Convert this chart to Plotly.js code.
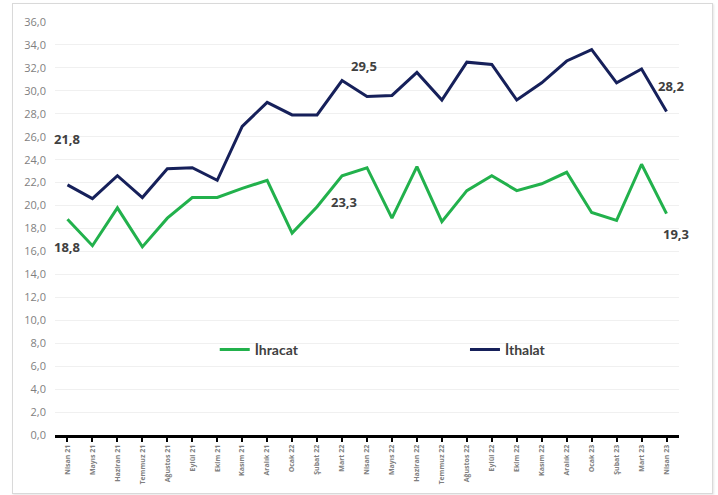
<!DOCTYPE html>
<html>
<head>
<meta charset="utf-8">
<script src="https://cdn.plot.ly/plotly-3.0.1.min.js"></script>
<style>
html,body{margin:0;padding:0;background:#fff;}
#frame{position:absolute;left:12px;top:3px;width:699px;height:489px;border:1px solid #d9d9d9;box-shadow:1px 1px 2px #e6e6e6;}
#chart{position:absolute;left:0;top:0;width:718px;height:495px;}
</style>
</head>
<body>
<div id="frame"></div>
<div id="chart"></div>
<script>
const months = ["Nisan 21","Mayıs 21","Haziran 21","Temmuz 21","Ağustos 21","Eylül 21","Ekim 21","Kasım 21","Aralık 21","Ocak 22","Şubat 22","Mart 22","Nisan 22","Mayıs 22","Haziran 22","Temmuz 22","Ağustos 22","Eylül 22","Ekim 22","Kasım 22","Aralık 22","Ocak 23","Şubat 23","Mart 23","Nisan 23"];
const ihracat = [18.8,16.5,19.8,16.4,18.9,20.7,20.7,21.5,22.2,17.6,19.9,22.6,23.3,18.9,23.4,18.6,21.3,22.6,21.3,21.9,22.9,19.4,18.7,23.6,19.3];
const ithalat = [21.8,20.6,22.6,20.7,23.2,23.3,22.2,26.9,29.0,27.9,27.9,30.9,29.5,29.6,31.6,29.2,32.5,32.3,29.2,30.7,32.6,33.6,30.7,31.9,28.2];
const yTicks = [0,2,4,6,8,10,12,14,16,18,20,22,24,26,28,30,32,34,36];
const yTickText = ["0,0","2,0","4,0","6,0","8,0","10,0","12,0","14,0","16,0","18,0","20,0","22,0","24,0","26,0","28,0","30,0","32,0","34,0","36,0"];
const labelTexts = ["21,8","18,8","29,5","23,3","28,2","19,3"];

const green = "#22b14c";
const navy = "#16205a";

const traces = [
  {x: months, y: ihracat, type: "scatter", mode: "lines", name: "İhracat", legend: "legend",
   line: {color: green, width: 3}},
  {x: months, y: ithalat, type: "scatter", mode: "lines", name: "İthalat", legend: "legend2",
   line: {color: navy, width: 3}}
];

const annFont = {family: "Open Sans, sans-serif", size: 13, color: "#404040", weight: 700};
const annotations = [
  {x: 0, y: 25.8, text: labelTexts[0], xanchor: "center", xshift: 0},
  {x: 0, y: 16.4, text: labelTexts[1], xanchor: "center", xshift: 0},
  {x: 12, y: 32.2, text: labelTexts[2], xanchor: "center", xshift: -3},
  {x: 12, y: 20.3, text: labelTexts[3], xanchor: "center", xshift: -23},
  {x: 24, y: 30.4, text: labelTexts[4], xanchor: "center", xshift: 5},
  {x: 24, y: 17.5, text: labelTexts[5], xanchor: "center", xshift: 9}
].map(a => Object.assign({xref: "x", yref: "y", showarrow: false, font: annFont, yanchor: "middle"}, a));

const legFont = {family: "Lato, sans-serif", size: 14, color: "#404040", weight: 700};
const layout = {
  width: 718, height: 495,
  margin: {l: 55, r: 39, t: 22, b: 60},
  paper_bgcolor: "rgba(0,0,0,0)",
  plot_bgcolor: "rgba(0,0,0,0)",
  showlegend: true,
  legend: {orientation: "h", x: 0.256, y: 0.206, xanchor: "left", yanchor: "middle",
           font: legFont, bgcolor: "rgba(0,0,0,0)"},
  legend2: {orientation: "h", x: 0.657, y: 0.206, xanchor: "left", yanchor: "middle",
           font: legFont, bgcolor: "rgba(0,0,0,0)"},
  xaxis: {type: "category", range: [-0.5, 24.5], showgrid: false,
          showline: true, linecolor: "#000", linewidth: 3,
          ticks: "outside", ticklen: 4, tickwidth: 2, tickcolor: "#000",
          tickangle: -90, tickfont: {family: "Open Sans, sans-serif", size: 7, color: "#7f7f7f", weight: 700}},
  yaxis: {range: [0, 36], tickvals: yTicks, ticktext: yTickText,
          showgrid: true, gridcolor: "#f0f0f0", gridwidth: 1, zeroline: false,
          showline: false, ticks: "", ticklabelstandoff: 8,
          tickfont: {family: "Open Sans, sans-serif", size: 11, color: "#7f7f7f"}},
  annotations: annotations
};

Plotly.newPlot("chart", traces, layout, {displayModeBar: false, staticPlot: true});
</script>
</body>
</html>
